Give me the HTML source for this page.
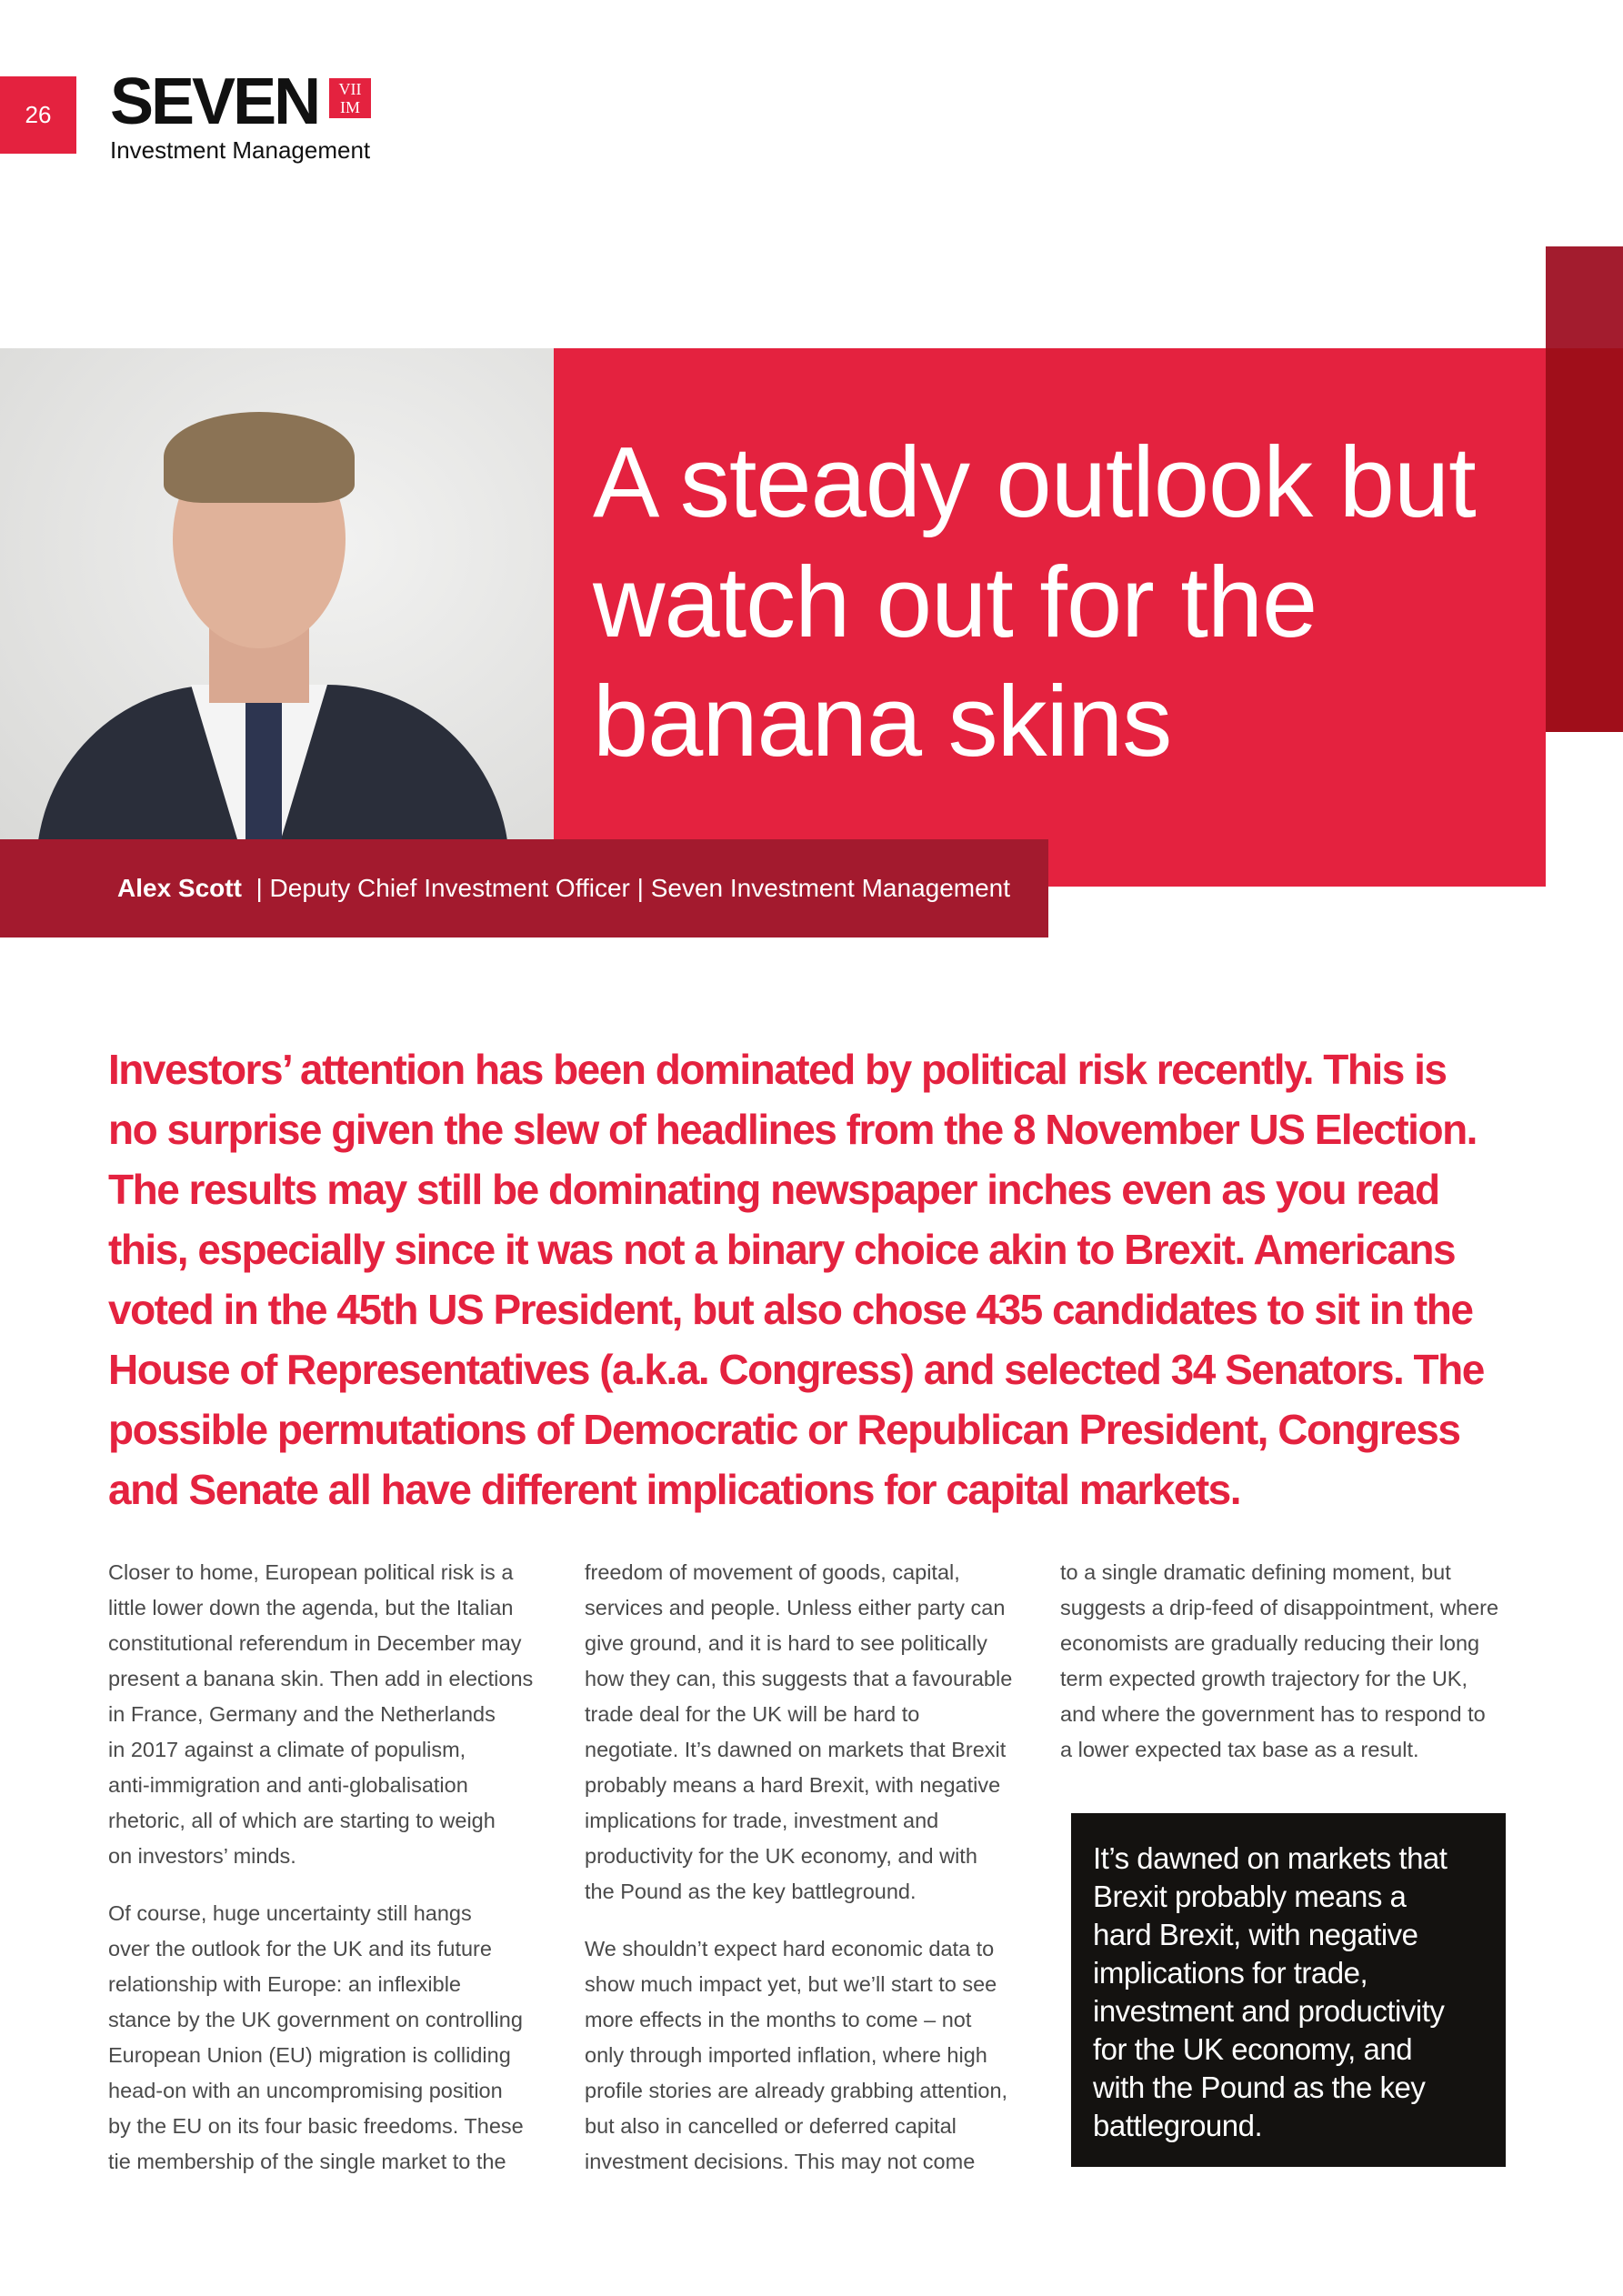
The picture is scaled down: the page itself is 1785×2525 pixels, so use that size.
<!DOCTYPE html>
<html><head><meta charset="utf-8">
<style>
*{margin:0;padding:0;box-sizing:border-box}
body{width:1785px;height:2525px;background:#fff;position:relative;overflow:hidden;font-family:"Liberation Sans",sans-serif}
.abs{position:absolute}
.title div{position:absolute;left:652px;color:#fff;font-size:110px;line-height:1;white-space:nowrap;letter-spacing:-1px}
.intro div{position:absolute;left:119px;color:#e4223f;font-size:46px;font-weight:bold;line-height:1;white-space:nowrap;letter-spacing:-1.5px}
.col div{position:absolute;color:#4a4a4a;font-size:23.5px;line-height:1;white-space:nowrap}
.quote div{position:absolute;left:1202px;color:#fff;font-size:33px;line-height:1;white-space:nowrap;letter-spacing:-0.5px}
</style></head><body>
<div class="abs" style="left:0;top:84px;width:84px;height:85px;background:#e4223f;color:#fff;font-size:26px;display:flex;align-items:center;justify-content:center">26</div>
<div class="abs" style="left:121px;top:76px;">
 <div style="font-size:72px;font-weight:bold;letter-spacing:-3px;color:#111;line-height:72px">SEVEN</div>
 <div style="font-size:26px;color:#111;margin-top:2px">Investment Management</div>
</div>
<div class="abs" style="left:362px;top:86px;width:46px;height:44px;background:#e4223f;color:#fff;font-family:'Liberation Serif',serif;font-size:18px;line-height:20px;text-align:center;padding-top:2px">VII<br>IM</div>

<div class="abs" style="left:1700px;top:271px;width:85px;height:112px;background:#a31c2e"></div>
<div class="abs" style="left:1700px;top:383px;width:85px;height:422px;background:#a00e1a"></div>
<div class="abs" style="left:609px;top:383px;width:1091px;height:592px;background:#e4223f"></div>

<div class="abs" style="left:0;top:383px;width:609px;height:540px;background:radial-gradient(ellipse at 60% 40%,#f2f2f1,#d9d9d7);overflow:hidden">
 <div style="position:absolute;left:40px;top:370px;width:520px;height:300px;border-radius:200px 200px 0 0;background:#2a2e3a"></div>
 <div style="position:absolute;left:210px;top:370px;width:150px;height:200px;background:#f4f4f4;clip-path:polygon(0 0,100% 0,60% 100%,40% 100%)"></div>
 <div style="position:absolute;left:270px;top:390px;width:40px;height:170px;background:#2d3550"></div>
 <div style="position:absolute;left:230px;top:240px;width:110px;height:150px;background:#d9a891"></div>
 <div style="position:absolute;left:190px;top:90px;width:190px;height:240px;border-radius:50%;background:#e0b29a"></div>
 <div style="position:absolute;left:180px;top:70px;width:210px;height:100px;border-radius:50% 50% 20% 20%;background:#8b7355"></div>
</div>

<div class="title">
 <div style="top:476px">A steady outlook but</div>
 <div style="top:608px">watch out for the</div>
 <div style="top:739px">banana skins</div>
</div>

<div class="abs" style="left:0;top:923px;width:1153px;height:108px;background:#a31a2e;color:#fff;font-size:28px;line-height:108px;padding-left:129px;white-space:nowrap"><b>Alex Scott</b>&nbsp; | Deputy Chief Investment Officer | Seven Investment Management</div>

<div class="intro">
 <div style="top:1153px">Investors’ attention has been dominated by political risk recently. This is</div>
 <div style="top:1219px">no surprise given the slew of headlines from the 8 November US Election.</div>
 <div style="top:1285px">The results may still be dominating newspaper inches even as you read</div>
 <div style="top:1351px">this, especially since it was not a binary choice akin to Brexit. Americans</div>
 <div style="top:1417px">voted in the 45th US President, but also chose 435 candidates to sit in the</div>
 <div style="top:1483px">House of Representatives (a.k.a. Congress) and selected 34 Senators. The</div>
 <div style="top:1549px">possible permutations of Democratic or Republican President, Congress</div>
 <div style="top:1615px">and Senate all have different implications for capital markets.</div>
</div>

<div class="col" style="left:119px;position:absolute;top:0">
 <div style="top:1718px">Closer to home, European political risk is a</div>
 <div style="top:1757px">little lower down the agenda, but the Italian</div>
 <div style="top:1796px">constitutional referendum in December may</div>
 <div style="top:1835px">present a banana skin. Then add in elections</div>
 <div style="top:1874px">in France, Germany and the Netherlands</div>
 <div style="top:1913px">in 2017 against a climate of populism,</div>
 <div style="top:1952px">anti-immigration and anti-globalisation</div>
 <div style="top:1991px">rhetoric, all of which are starting to weigh</div>
 <div style="top:2030px">on investors’ minds.</div>
 <div style="top:2093px">Of course, huge uncertainty still hangs</div>
 <div style="top:2132px">over the outlook for the UK and its future</div>
 <div style="top:2171px">relationship with Europe: an inflexible</div>
 <div style="top:2210px">stance by the UK government on controlling</div>
 <div style="top:2249px">European Union (EU) migration is colliding</div>
 <div style="top:2288px">head-on with an uncompromising position</div>
 <div style="top:2327px">by the EU on its four basic freedoms. These</div>
 <div style="top:2366px">tie membership of the single market to the</div>
</div>

<div class="col" style="left:643px;position:absolute;top:0">
 <div style="top:1718px">freedom of movement of goods, capital,</div>
 <div style="top:1757px">services and people. Unless either party can</div>
 <div style="top:1796px">give ground, and it is hard to see politically</div>
 <div style="top:1835px">how they can, this suggests that a favourable</div>
 <div style="top:1874px">trade deal for the UK will be hard to</div>
 <div style="top:1913px">negotiate. It’s dawned on markets that Brexit</div>
 <div style="top:1952px">probably means a hard Brexit, with negative</div>
 <div style="top:1991px">implications for trade, investment and</div>
 <div style="top:2030px">productivity for the UK economy, and with</div>
 <div style="top:2069px">the Pound as the key battleground.</div>
 <div style="top:2132px">We shouldn’t expect hard economic data to</div>
 <div style="top:2171px">show much impact yet, but we’ll start to see</div>
 <div style="top:2210px">more effects in the months to come – not</div>
 <div style="top:2249px">only through imported inflation, where high</div>
 <div style="top:2288px">profile stories are already grabbing attention,</div>
 <div style="top:2327px">but also in cancelled or deferred capital</div>
 <div style="top:2366px">investment decisions. This may not come</div>
</div>

<div class="col" style="left:1166px;position:absolute;top:0">
 <div style="top:1718px">to a single dramatic defining moment, but</div>
 <div style="top:1757px">suggests a drip-feed of disappointment, where</div>
 <div style="top:1796px">economists are gradually reducing their long</div>
 <div style="top:1835px">term expected growth trajectory for the UK,</div>
 <div style="top:1874px">and where the government has to respond to</div>
 <div style="top:1913px">a lower expected tax base as a result.</div>
</div>

<div class="abs" style="left:1178px;top:1994px;width:478px;height:389px;background:#141210"></div>
<div class="quote">
 <div style="top:2027px">It’s dawned on markets that</div>
 <div style="top:2069px">Brexit probably means a</div>
 <div style="top:2111px">hard Brexit, with negative</div>
 <div style="top:2153px">implications for trade,</div>
 <div style="top:2195px">investment and productivity</div>
 <div style="top:2237px">for the UK economy, and</div>
 <div style="top:2279px">with the Pound as the key</div>
 <div style="top:2321px">battleground.</div>
</div>
</body></html>
